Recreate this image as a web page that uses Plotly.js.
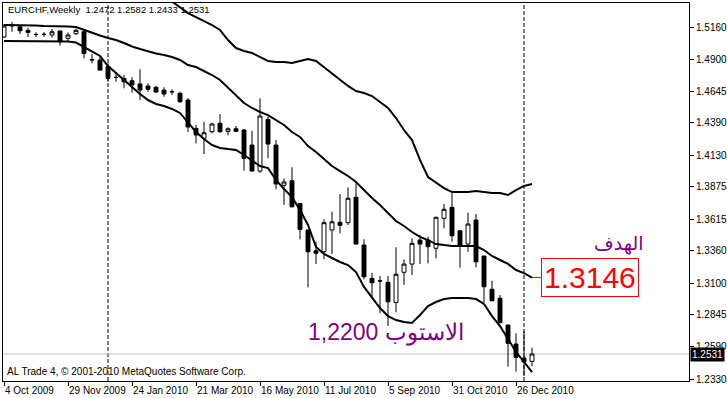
<!DOCTYPE html>
<html>
<head>
<meta charset="utf-8">
<script src="https://cdn.plot.ly/plotly-3.0.1.min.js"></script>
<style>html,body{margin:0;padding:0;background:#fff;}#chart{width:727px;height:398px;}</style>
</head>
<body>
<div id="chart"></div>
<script>
// Weekly EURCHF candles (week start dates)
const dates = [
'2009-10-04','2009-10-11','2009-10-18','2009-10-25','2009-11-01','2009-11-08','2009-11-15','2009-11-22','2009-11-29','2009-12-06',
'2009-12-13','2009-12-20','2009-12-27','2010-01-03','2010-01-10','2010-01-17','2010-01-24','2010-01-31','2010-02-07','2010-02-14',
'2010-02-21','2010-02-28','2010-03-07','2010-03-14','2010-03-21','2010-03-28','2010-04-04','2010-04-11','2010-04-18','2010-04-25',
'2010-05-02','2010-05-09','2010-05-16','2010-05-23','2010-05-30','2010-06-06','2010-06-13','2010-06-20','2010-06-27','2010-07-04',
'2010-07-11','2010-07-18','2010-07-25','2010-08-01','2010-08-08','2010-08-15','2010-08-22','2010-08-29','2010-09-05','2010-09-12',
'2010-09-19','2010-09-26','2010-10-03','2010-10-10','2010-10-17','2010-10-24','2010-10-31','2010-11-07','2010-11-14','2010-11-21',
'2010-11-28','2010-12-05','2010-12-12','2010-12-19','2010-12-26','2011-01-02','2011-01-09'
];
const openP = [
1.5080,1.5172,1.5162,1.5133,1.5101,1.5100,1.5096,1.5128,1.5069,1.5106,
1.5122,1.4898,1.4895,1.4841,1.4756,1.4747,1.4728,1.4702,1.4686,1.4675,
1.4653,1.4641,1.4627,1.4573,1.4345,1.4265,1.4318,1.4386,1.4321,1.4342,
1.4332,1.4211,1.4002,1.4418,1.4211,1.3887,1.3924,1.3742,1.3528,1.3361,
1.3353,1.3528,1.3590,1.3587,1.3791,1.3407,1.3139,1.3120,1.3107,1.2946,
1.3188,1.3254,1.3447,1.3447,1.3381,1.3622,1.3710,1.3522,1.3415,1.3608,
1.3319,1.3051,1.2979,1.2764,1.2611,1.2499,1.2472
];
const highP = [
1.5184,1.5202,1.5176,1.5154,1.5117,1.5120,1.5144,1.5130,1.5117,1.5149,
1.5133,1.4943,1.4921,1.4868,1.4782,1.4774,1.4756,1.4820,1.4707,1.4686,
1.4675,1.4659,1.4640,1.4589,1.4372,1.4398,1.4390,1.4460,1.4353,1.4364,
1.4340,1.4326,1.4587,1.4439,1.4251,1.3943,1.4032,1.3745,1.3530,1.3434,
1.3614,1.3675,1.3817,1.3871,1.3903,1.3453,1.3184,1.3158,1.3158,1.3389,
1.3292,1.3461,1.3488,1.3474,1.3635,1.3737,1.3828,1.3522,1.3667,1.3656,
1.3319,1.3120,1.3005,1.2764,1.2697,1.2716,1.2582
];
const lowP = [
1.5072,1.5122,1.5104,1.5080,1.5080,1.5080,1.5074,1.5010,1.5047,1.5096,
1.4908,1.4868,1.4809,1.4720,1.4720,1.4667,1.4632,1.4573,1.4640,1.4629,
1.4600,1.4613,1.4551,1.4316,1.4225,1.4139,1.4305,1.4310,1.4289,1.4316,
1.4005,1.3998,1.3988,1.4104,1.3855,1.3729,1.3709,1.3453,1.3067,1.3254,
1.3292,1.3335,1.3501,1.3568,1.3413,1.3131,1.2992,1.2858,1.2756,1.2866,
1.3086,1.3166,1.3254,1.3260,1.3300,1.3541,1.3434,1.3225,1.3353,1.3228,
1.2943,1.2959,1.2780,1.2429,1.2389,1.2354,1.2433
];
const closeP = [
1.5168,1.5170,1.5130,1.5117,1.5099,1.5101,1.5122,1.5042,1.5096,1.5133,
1.4948,1.4895,1.4814,1.4747,1.4754,1.4720,1.4694,1.4653,1.4659,1.4637,
1.4621,1.4639,1.4559,1.4356,1.4292,1.4310,1.4380,1.4318,1.4342,1.4321,
1.4104,1.4002,1.4444,1.4219,1.3898,1.3914,1.3715,1.3533,1.3353,1.3341,
1.3587,1.3594,1.3566,1.3783,1.3415,1.3152,1.3104,1.3118,1.2951,1.3172,
1.3254,1.3421,1.3415,1.3394,1.3630,1.3694,1.3482,1.3399,1.3576,1.3273,
1.3072,1.2959,1.2782,1.2617,1.2504,1.2467,1.2531
];
// Bollinger bands
const upperBand = [
null,null,null,null,null,null,null,null,null,null,
null,null,null,null,null,null,null,null,null,null,
null,1.5365,1.5320,1.5272,1.5240,1.5208,1.5176,1.5136,1.5055,1.4991,
1.4967,1.4951,1.4919,1.4887,1.4878,1.4878,1.4870,1.4887,1.4903,1.4887,
1.4838,1.4782,1.4734,1.4686,1.4645,1.4629,1.4605,1.4557,1.4509,1.4428,
1.4332,1.4251,1.4091,1.3954,1.3906,1.3865,1.3833,1.3833,1.3833,1.3841,
1.3833,1.3825,1.3825,1.3809,1.3849,1.3882,1.3898
];
const middleBand = [
1.5176,1.5176,1.5176,1.5172,1.5172,1.5168,1.5168,1.5168,1.5164,1.5160,
1.5136,1.5112,1.5092,1.5072,1.5055,1.5031,1.5003,1.4983,1.4963,1.4947,
1.4935,1.4919,1.4895,1.4854,1.4838,1.4806,1.4774,1.4734,1.4670,1.4605,
1.4549,1.4509,1.4477,1.4452,1.4412,1.4372,1.4316,1.4276,1.4203,1.4155,
1.4099,1.4042,1.4002,1.3962,1.3914,1.3849,1.3785,1.3729,1.3664,1.3600,
1.3560,1.3512,1.3472,1.3447,1.3415,1.3407,1.3399,1.3399,1.3399,1.3399,
1.3367,1.3319,1.3287,1.3255,1.3206,1.3182,1.3146
];
const lowerBand = [
1.5047,1.5047,1.5047,1.5047,1.5047,1.5047,1.5047,1.5047,1.5043,1.5035,
1.4999,1.4967,1.4927,1.4846,1.4790,1.4726,1.4677,1.4621,1.4573,1.4541,
1.4525,1.4501,1.4469,1.4396,1.4316,1.4259,1.4211,1.4187,1.4179,1.4171,
1.4131,1.4083,1.4042,1.4026,1.3930,1.3857,1.3793,1.3689,1.3568,1.3391,
1.3335,1.3303,1.3271,1.3246,1.3190,1.3070,1.2981,1.2901,1.2836,1.2804,
1.2788,1.2780,1.2844,1.2917,1.2949,1.2973,1.2981,1.2981,1.2981,1.2973,
1.2933,1.2836,1.2756,1.2652,1.2547,1.2467,1.2386
];
const tickDates = ['2009-10-04','2009-11-29','2010-01-24','2010-03-21','2010-05-16','2010-07-11','2010-09-05','2010-10-31','2010-12-26'];
const tickLabels = ['4 Oct 2009','29 Nov 2009','24 Jan 2010','21 Mar 2010','16 May 2010','11 Jul 2010','5 Sep 2010','31 Oct 2010','26 Dec 2010'];
const priceTicks = [1.5160,1.4900,1.4645,1.4390,1.4130,1.3875,1.3615,1.3360,1.3100,1.2845,1.2590,1.2330];
const priceLabels = ['1.5160','1.4900','1.4645','1.4390','1.4130','1.3875','1.3615','1.3360','1.3100','1.2845','1.2590','1.2330'];
const periodSeparators = ['2010-01-03','2011-01-02'];
const headerText = 'EURCHF,Weekly  1.2472 1.2582 1.2433 1.2531';
const copyrightText = 'AL Trade 4, © 2001-2010 MetaQuotes Software Corp.';
const targetLabel = 'الهدف';
const targetValue = '1.3146';
const stopText = '1,2200 الاستوب';

const FONT = 'Liberation Sans, Arial, sans-serif';
const DAY = 86400000, WEEK = 7 * DAY;
const t0 = Date.parse(dates[0] + 'T00:00:00Z');
function fmt(t){ return new Date(t).toISOString().replace('T',' ').replace('Z',''); }
const xRange = [fmt(t0 - WEEK / 8), fmt(t0 + WEEK * 85.625)];

const traces = [
  {type:'candlestick', x:dates, open:openP, high:highP, low:lowP, close:closeP,
   increasing:{line:{color:'#000',width:1}, fillcolor:'#fff'},
   decreasing:{line:{color:'#000',width:1}, fillcolor:'#000'},
   whiskerwidth:0, hoverinfo:'skip'},
  {type:'scatter', mode:'lines', x:dates, y:upperBand, line:{color:'#000',width:2}, hoverinfo:'skip', connectgaps:false},
  {type:'scatter', mode:'lines', x:dates, y:middleBand, line:{color:'#000',width:2}, hoverinfo:'skip'},
  {type:'scatter', mode:'lines', x:dates, y:lowerBand, line:{color:'#000',width:2}, hoverinfo:'skip'}
];

const lastClose = closeP[closeP.length - 1];
const lastMid = middleBand[middleBand.length - 1];

const layout = {
  width:727, height:398,
  margin:{l:3, r:38, t:3, b:17, pad:0},
  paper_bgcolor:'#fff', plot_bgcolor:'#fff',
  showlegend:false, hovermode:false,
  font:{family:FONT, size:10, color:'#000'},
  xaxis:{type:'date', range:xRange, showgrid:false, zeroline:false,
    showline:true, mirror:true, linecolor:'#000', linewidth:1,
    ticks:'outside', ticklen:4, tickcolor:'#000', tickwidth:1,
    tickvals:tickDates, ticktext:tickLabels, ticklabelposition:'outside right',
    tickangle:0, automargin:false,
    tickfont:{family:FONT, size:10, color:'#000'},
    rangeslider:{visible:false}, fixedrange:true},
  yaxis:{range:[1.2314, 1.5353], side:'right', showgrid:false, zeroline:false,
    showline:true, mirror:true, linecolor:'#000', linewidth:1,
    ticks:'outside', ticklen:4, tickcolor:'#000', tickwidth:1,
    tickvals:priceTicks, ticktext:priceLabels, automargin:false,
    tickfont:{family:FONT, size:10, color:'#000'}, fixedrange:true},
  shapes:[
    ...periodSeparators.map(d => ({type:'line', xref:'x', yref:'paper', x0:d, x1:d, y0:0, y1:1,
      line:{color:'#000', width:1, dash:'4px,2px'}, layer:'below'})),
    {type:'line', xref:'paper', yref:'y', x0:0, x1:1, y0:lastClose, y1:lastClose,
      line:{color:'#c0c0c0', width:1}, layer:'below'}
  ],
  annotations:[
    {xref:'paper', yref:'paper', x:0.004, y:0.982, xanchor:'left', yanchor:'middle',
      text:headerText, showarrow:false, font:{family:FONT, size:9.5, color:'#000'}},
    {xref:'paper', yref:'paper', x:0.003, y:0.025, xanchor:'left', yanchor:'middle',
      text:copyrightText, showarrow:false, font:{family:FONT, size:10, color:'#000'}},
    {xref:'paper', yref:'y', x:1, y:lastClose, xanchor:'left', yanchor:'middle', xshift:1,
      text:lastClose.toFixed(4), showarrow:false, bgcolor:'#000', borderpad:1,
      font:{family:FONT, size:10, color:'#fff'}},
    {xref:'paper', yref:'paper', x:0.898, y:0.365, xanchor:'center', yanchor:'middle',
      text:targetLabel, showarrow:false, font:{family:'DejaVu Sans, sans-serif', size:19, color:'#800080'}},
    {xref:'x', yref:'y', x:dates[dates.length-1], y:lastMid, ax:58, ay:0,
      text:targetValue, showarrow:true, arrowhead:0, arrowcolor:'#ff0000', arrowwidth:1, standoff:0,
      bordercolor:'#ff0000', borderwidth:1, borderpad:2, bgcolor:'#fff',
      font:{family:FONT, size:30, color:'#ff0000'}},
    {xref:'paper', yref:'paper', x:0.5576, y:0.127, xanchor:'center', yanchor:'middle',
      text:stopText, showarrow:false, font:{family:FONT, size:23, color:'#800080'}}
  ]
};

Plotly.newPlot('chart', traces, layout, {displayModeBar:false, staticPlot:true});
</script>
</body>
</html>
